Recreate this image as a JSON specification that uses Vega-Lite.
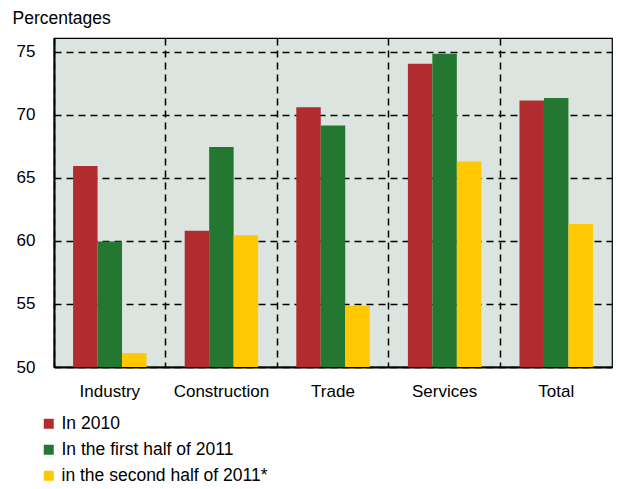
{
  "$schema": "https://vega.github.io/schema/vega-lite/v6.json",
  "autosize": {"type": "none"},
  "width": 558,
  "height": 329,
  "padding": {"left": 54, "top": 38, "right": 6, "bottom": 122},
  "background": "white",
  "config": {
    "font": "Liberation Sans",
    "view": {"fill": "#dce4df", "stroke": "black", "strokeWidth": 1.2}
  },
  "data": {
    "values": [
      {"sector": "Industry", "series": "In 2010", "value": 65.95},
      {"sector": "Industry", "series": "In the first half of 2011", "value": 59.95},
      {"sector": "Industry", "series": "in the second half of 2011*", "value": 51.1},
      {"sector": "Construction", "series": "In 2010", "value": 60.8},
      {"sector": "Construction", "series": "In the first half of 2011", "value": 67.45},
      {"sector": "Construction", "series": "in the second half of 2011*", "value": 60.45},
      {"sector": "Trade", "series": "In 2010", "value": 70.6},
      {"sector": "Trade", "series": "In the first half of 2011", "value": 69.15},
      {"sector": "Trade", "series": "in the second half of 2011*", "value": 54.85},
      {"sector": "Services", "series": "In 2010", "value": 74.05},
      {"sector": "Services", "series": "In the first half of 2011", "value": 74.85},
      {"sector": "Services", "series": "in the second half of 2011*", "value": 66.3},
      {"sector": "Total", "series": "In 2010", "value": 71.15},
      {"sector": "Total", "series": "In the first half of 2011", "value": 71.35},
      {"sector": "Total", "series": "in the second half of 2011*", "value": 61.35}
    ]
  },
  "mark": {"type": "bar"},
  "encoding": {
    "x": {
      "field": "sector",
      "type": "nominal",
      "sort": ["Industry", "Construction", "Trade", "Services", "Total"],
      "scale": {"paddingInner": 0, "paddingOuter": 0},
      "axis": {
        "title": null,
        "bandPosition": 0,
        "labelAngle": 0,
        "labelFontSize": 17,
        "labelColor": "black",
        "labelPadding": 16,
        "labelBaseline": "top",
        "ticks": false,
        "tickSize": 0,
        "domainColor": "black",
        "domainWidth": 2,
        "grid": true,
        "gridColor": "black",
        "gridDash": [7, 5],
        "gridWidth": 1.5,
        "gridOpacity": 1
      }
    },
    "xOffset": {
      "field": "series",
      "type": "nominal",
      "scale": {
        "domain": ["In 2010", "In the first half of 2011", "in the second half of 2011*"],
        "paddingInner": 0,
        "paddingOuter": 0.78
      }
    },
    "y": {
      "field": "value",
      "type": "quantitative",
      "scale": {"domain": [50, 76.1], "nice": false, "zero": false},
      "axis": {
        "values": [50, 55, 60, 65, 70, 75],
        "title": "Percentages",
        "titleAngle": 0,
        "titleX": -42,
        "titleY": -20,
        "titleAlign": "left",
        "titleBaseline": "middle",
        "titleFontSize": 17.5,
        "titleFontWeight": "normal",
        "titleColor": "black",
        "labelFontSize": 17,
        "labelColor": "black",
        "labelPadding": 19,
        "ticks": false,
        "tickSize": 0,
        "domainColor": "black",
        "domainWidth": 2,
        "grid": true,
        "gridColor": "black",
        "gridDash": [7, 5],
        "gridWidth": 1.5,
        "gridOpacity": 1
      }
    },
    "y2": {"datum": 50},
    "color": {
      "field": "series",
      "type": "nominal",
      "scale": {
        "domain": ["In 2010", "In the first half of 2011", "in the second half of 2011*"],
        "range": ["#b02c2e", "#237731", "#ffc800"]
      },
      "legend": {
        "title": null,
        "orient": "none",
        "legendX": -14,
        "legendY": 377,
        "symbolType": "square",
        "symbolSize": 100,
        "symbolStrokeWidth": 0,
        "symbolOpacity": 1,
        "labelFontSize": 17.5,
        "labelColor": "black",
        "labelOffset": 4,
        "rowPadding": 7,
        "labelLimit": 400
      }
    }
  }
}
